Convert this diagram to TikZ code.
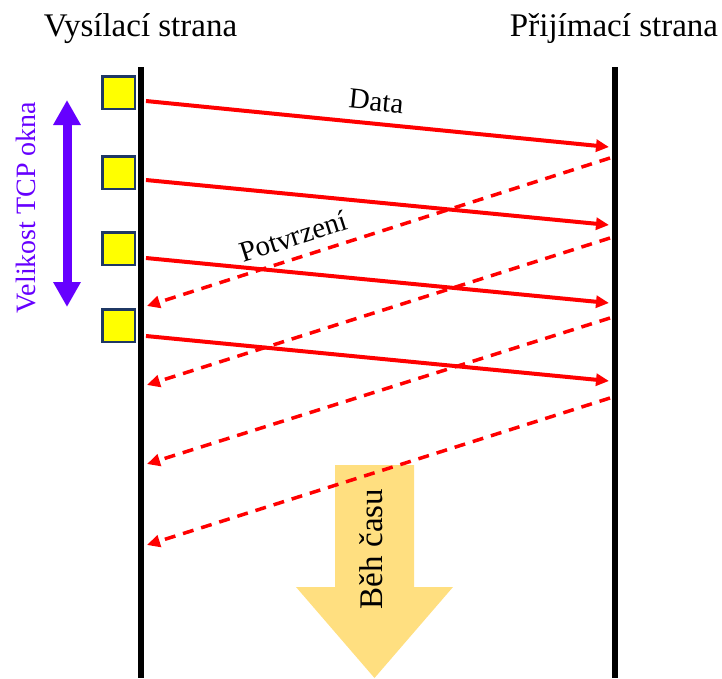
\documentclass[tikz,border=0pt]{standalone}
\usepackage{fontspec}
\setmainfont{Liberation Serif}
\usetikzlibrary{arrows.meta}

\definecolor{msgred}{RGB}{255,0,0}
\definecolor{winpurple}{RGB}{102,0,255}
\definecolor{packetedge}{RGB}{31,56,100}
\definecolor{packetfill}{RGB}{255,255,0}
\definecolor{timegold}{RGB}{255,223,128}

\begin{document}
\begin{tikzpicture}[x=1pt,y=-1pt,
  lifeline/.style={line width=6pt, draw=black},
  packet/.style={draw=packetedge, fill=packetfill, line width=2.7pt,
    minimum size=32.7pt, inner sep=0pt},
  datamsg/.style={draw=msgred, line width=4pt,
    -{Triangle[length=13pt,width=12pt]}},
  ackmsg/.style={datamsg, line width=3.5pt, dash pattern=on 11pt off 8pt},
  heading/.style={font=\fontsize{33}{40}\selectfont, anchor=base},
  msglabel/.style={font=\fontsize{29}{34}\selectfont, sloped, inner sep=0pt},
]
\useasboundingbox (0,0) rectangle (722,678);

% time arrow in the background
\fill[timegold] (335,465) -- (414,465) -- (414,587) -- (453,587)
  -- (374.5,678) -- (296,587) -- (335,587) -- cycle;
\node[rotate=90, anchor=base, font=\fontsize{33}{40}\selectfont]
  (timelabel) at (382,549) {Běh času};

% headings
\node[heading] (sender) at (140.5,36) {Vysílací strana};
\node[heading] (receiver) at (614,36) {Přijímací strana};

% lifelines
\coordinate (stop) at (141,67);
\coordinate (sbot) at (141,678);
\coordinate (rtop) at (614.5,67);
\coordinate (rbot) at (614.5,678);
\draw[lifeline] (stop) -- (sbot);
\draw[lifeline] (rtop) -- (rbot);

% packets in the send window
\node[packet] (p1) at (118.5,92.5) {};
\node[packet] (p2) at (118.5,172.5) {};
\node[packet] (p3) at (118.5,248.5) {};
\node[packet] (p4) at (118.5,325.5) {};

% window size
\coordinate (wtop) at (67,100);
\coordinate (wbot) at (67,307);
\draw[winpurple, line width=9pt,
  {Triangle[length=25pt,width=26pt]}-{Triangle[length=25pt,width=26pt]}]
  (wtop) -- (wbot);
\node[rotate=90, anchor=base, text=winpurple, font=\fontsize{28}{34}\selectfont]
  (winlabel) at (35,207.5) {Velikost TCP okna};

% data segments
\coordinate (d1s) at (146,101);  \coordinate (d1e) at (609,147);
\coordinate (d2s) at (146,180);  \coordinate (d2e) at (609,225);
\coordinate (d3s) at (146,258);  \coordinate (d3e) at (609,303);
\coordinate (d4s) at (146,336);  \coordinate (d4e) at (609,381);
\draw[datamsg] (d1s) -- node[msglabel, above=10.8pt, pos=0.4925] (datalabel) {Data} (d1e);
\draw[datamsg] (d2s) -- (d2e);
\draw[datamsg] (d3s) -- (d3e);
\draw[datamsg] (d4s) -- (d4e);

% acknowledgements
\coordinate (a1s) at (610,158);  \coordinate (a1e) at (147,306);
\coordinate (a2s) at (610,238);  \coordinate (a2e) at (147,385);
\coordinate (a3s) at (610,318);  \coordinate (a3e) at (147,464);
\coordinate (a4s) at (610,398);  \coordinate (a4e) at (147,545);
\draw[ackmsg] (a1s) -- node[msglabel, above=9.8pt, pos=0.67] (acklabel) {Potvrzení} (a1e);
\draw[ackmsg] (a2s) -- (a2e);
\draw[ackmsg] (a3s) -- (a3e);
\draw[ackmsg] (a4s) -- (a4e);
\end{tikzpicture}
\end{document}
